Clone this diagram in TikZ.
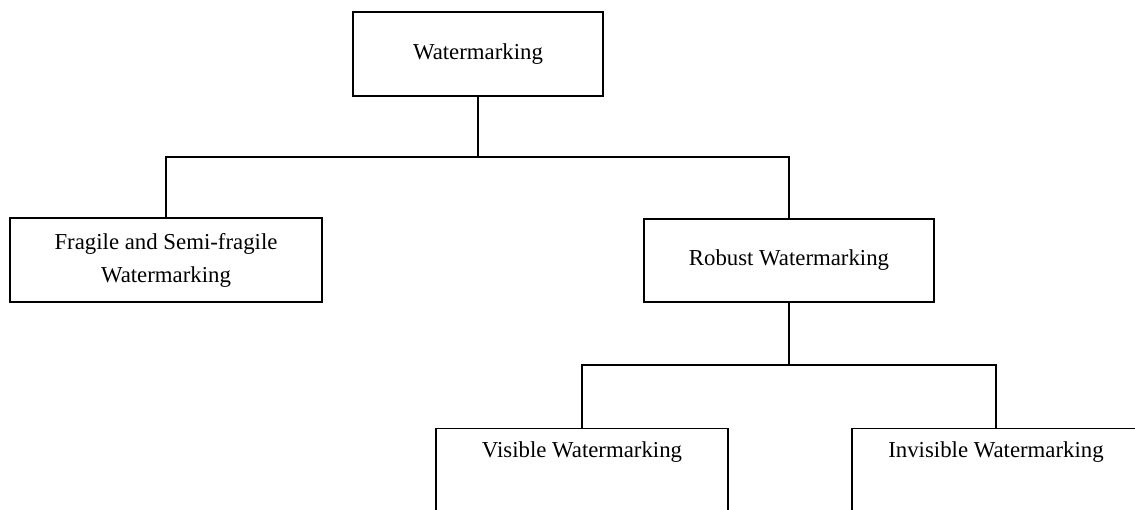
\documentclass[tikz,border=0pt]{standalone}
\usepackage{fontspec}
\setmainfont{Liberation Serif}
\begin{document}
\begin{tikzpicture}[x=1pt,y=-1pt,
  box/.style={draw=black, line width=1.2pt, fill=white, align=center,
    font=\fontsize{22.8}{33}\selectfont, inner sep=0pt},
  link/.style={draw=black, line width=1.2pt}]
\useasboundingbox (0,0) rectangle (1135,509);
\clip (0,0) rectangle (1135,509);
\fill[white] (0,0) rectangle (1135,509);
\node[box, minimum width=250pt, minimum height=84pt] (wm) at (478,54) {Watermarking};
\node[box, minimum width=312pt, minimum height=84pt] (frag) at (166,260) {Fragile and Semi-fragile\\Watermarking};
\node[box, minimum width=290pt, minimum height=83pt] (rob) at (789,260.5) {Robust Watermarking};
\node[box, anchor=north, minimum width=292pt, text height=29pt, text depth=55pt] (vis) at (582,428) {Visible Watermarking};
\node[box, anchor=north, minimum width=288pt, text height=29pt, text depth=55pt] (inv) at (996,428) {Invisible Watermarking};
\coordinate (j1) at (478,157);
\coordinate (j2) at (789,365);
\draw[link] (wm.south) -- (j1);
\draw[link] (frag.north) -- (frag.north |- j1) -- (rob.north |- j1) -- (rob.north);
\draw[link] (rob.south) -- (j2);
\draw[link] (vis.north) -- (vis.north |- j2) -- (inv.north |- j2) -- (inv.north);
\end{tikzpicture}
\end{document}
